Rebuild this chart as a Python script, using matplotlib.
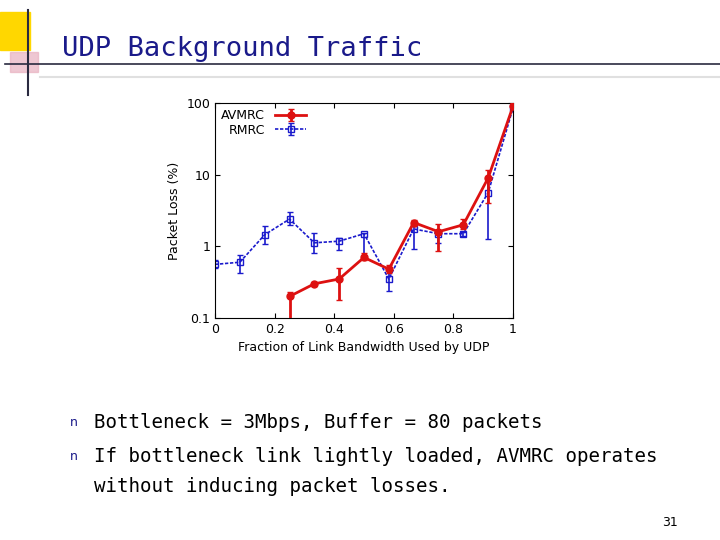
import matplotlib
matplotlib.use("Agg")
import matplotlib.pyplot as plt
import numpy as np
from matplotlib.patches import Rectangle

x_rmrc = [0, 1/12, 2/12, 3/12, 4/12, 5/12, 6/12, 7/12, 8/12, 9/12, 10/12, 11/12, 1]
y_rmrc = [0.56, 0.6, 1.45, 2.4, 1.12, 1.18, 1.5, 0.35, 1.75, 1.5, 1.5, 5.6, 85]
lo_rmrc = [0.5, 0.43, 1.08, 2.0, 0.82, 0.9, 0.7, 0.24, 0.92, 1.1, 1.4, 1.25, 80]
hi_rmrc = [0.65, 0.75, 1.9, 3.0, 1.55, 1.3, 1.55, 0.45, 2.2, 1.7, 1.6, 8.5, 90]
x_av = [3/12, 4/12, 5/12, 6/12, 7/12, 8/12, 9/12, 10/12, 11/12, 1]
y_av = [0.2, 0.3, 0.35, 0.7, 0.48, 2.15, 1.6, 2.0, 9, 90]
lo_av = [0.05, 0.28, 0.18, 0.65, 0.42, 1.9, 0.85, 1.75, 4, 85]
hi_av = [0.23, 0.32, 0.5, 0.8, 0.55, 2.3, 2.05, 2.4, 11.5, 100]

fig = plt.figure(figsize=(7.2, 5.4), dpi=100)
W, H = 720, 540
def fx(px): return px / W
def fy(py): return 1 - py / H

fig.patches.append(Rectangle((fx(0), fy(50)), 30/W, 38/H, transform=fig.transFigure, color="#FFD700", zorder=0))
fig.patches.append(Rectangle((fx(10), fy(72)), 28/W, 20/H, transform=fig.transFigure, color="#E8B0C0", alpha=0.7, zorder=0))
fig.lines.append(plt.Line2D([fx(28), fx(28)], [fy(10), fy(95)], transform=fig.transFigure, color="#2a2a40", lw=1.5))
fig.lines.append(plt.Line2D([fx(5), fx(720)], [fy(64), fy(64)], transform=fig.transFigure, color="#2a2a40", lw=1.2))
fig.lines.append(plt.Line2D([fx(40), fx(720)], [fy(77), fy(77)], transform=fig.transFigure, color="#e0e0e0", lw=1.5))
fig.text(fx(62), fy(49), "UDP Background Traffic", fontsize=19.5, color="#1a1a8a", va="center", family="DejaVu Sans Mono")

ax = fig.add_axes([fx(215), fy(318), (513-215)/W, (318-103)/H])
ax.set_yscale("log")
ax.errorbar(x_rmrc, y_rmrc, yerr=[np.array(y_rmrc)-lo_rmrc, np.array(hi_rmrc)-y_rmrc],
            color="#1a1acc", marker="s", mfc="none", ms=5, lw=1.2, ls=(0, (2, 1)), capsize=2, label="RMRC")
ax.errorbar(x_av, y_av, yerr=[np.array(y_av)-lo_av, np.array(hi_av)-y_av],
            color="#dd1111", marker="o", ms=5, lw=2, capsize=2, label="AVMRC", zorder=3)
ax.set_xlim(0, 1)
ax.set_ylim(0.1, 100)
ax.set_yticks([0.1, 1, 10, 100])
ax.set_yticklabels(["0.1", "1", "10", "100"])
ax.set_xticks([0, 0.2, 0.4, 0.6, 0.8, 1])
ax.set_xticklabels(["0", "0.2", "0.4", "0.6", "0.8", "1"])
ax.minorticks_off()
ax.tick_params(labelsize=9, direction="in", top=True, right=True)
ax.set_xlabel("Fraction of Link Bandwidth Used by UDP", fontsize=9)
ax.set_ylabel("Packet Loss (%)", fontsize=9)
h, l = ax.get_legend_handles_labels()
ax.legend(h[::-1], l[::-1], loc="upper left", frameon=False, fontsize=9, markerfirst=False,
          borderaxespad=0.1, handlelength=2.5, labelspacing=0.1)

fs = 13.8
fig.text(fx(70), fy(422), "n", fontsize=9, color="#1a1a8a", va="center")
fig.text(fx(70), fy(456), "n", fontsize=9, color="#1a1a8a", va="center")
fig.text(fx(94), fy(422), "Bottleneck = 3Mbps, Buffer = 80 packets", fontsize=fs, va="center", family="DejaVu Sans Mono")
fig.text(fx(94), fy(456), "If bottleneck link lightly loaded, AVMRC operates", fontsize=fs, va="center", family="DejaVu Sans Mono")
fig.text(fx(94), fy(487), "without inducing packet losses.", fontsize=fs, va="center", family="DejaVu Sans Mono")
fig.text(fx(678), fy(523), "31", fontsize=9, ha="right", va="center")

fig.savefig("out.png", dpi=100)
